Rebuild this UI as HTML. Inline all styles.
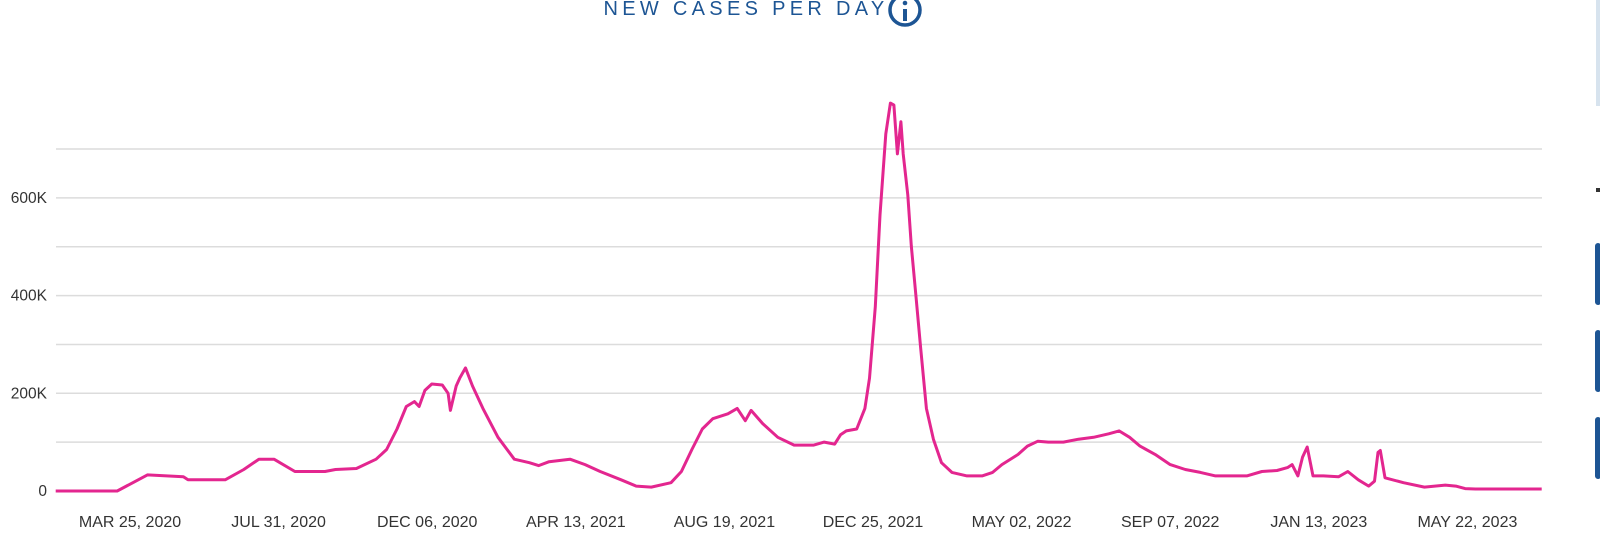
<!DOCTYPE html>
<html><head><meta charset="utf-8"><style>
body{margin:0;background:#fff;width:1600px;height:533px;overflow:hidden;font-family:"Liberation Sans",sans-serif;}
</style></head><body>
<svg width="1600" height="533" viewBox="0 0 1600 533">
<text x="746" y="15" text-anchor="middle" font-size="20" letter-spacing="4.3" fill="#1d5594">NEW CASES PER DAY</text>
<g><circle cx="905" cy="10" r="15" fill="none" stroke="#1d5594" stroke-width="3.5"/><rect x="903" y="9" width="4" height="12" fill="#1d5594"/><circle cx="905" cy="3" r="2.3" fill="#1d5594"/></g>
<rect x="1596" y="0" width="4" height="106" fill="#d7e3ee"/>
<rect x="1596" y="188" width="4" height="4" fill="#333"/>
<rect x="1595" y="243" width="6" height="62" rx="3" fill="#1d5594"/>
<rect x="1595" y="330" width="6" height="62" rx="3" fill="#1d5594"/>
<rect x="1595" y="417" width="6" height="62" rx="3" fill="#1d5594"/>
<g id="grid"></g><g id="ylab"></g><g id="xlab"></g><g id="series"></g>
</svg>
<script>
const days=[0,53,79,110,114,146,162,175,188,206,215,232,241,259,276,285,294,302,309,313,318,324,333,338,340,345,348,353,359,368,381,395,408,416,425,443,456,469,487,500,513,530,539,548,557,566,579,587,594,599,609,622,636,653,662,671,676,681,690,697,701,706,710,715,719,722,725,728,730,734,737,741,745,750,756,763,772,785,798,807,815,829,837,846,855,868,881,894,907,916,925,934,947,960,973,986,999,1013,1026,1039,1052,1061,1065,1070,1074,1078,1083,1092,1105,1113,1122,1131,1136,1139,1141,1145,1161,1179,1197,1206,1214,1223,1280];
const casesK=[0,0,33,29,23,23,44,65,65,40,40,40,44,46,65,85,127,173,183,173,206,219,217,200,165,215,231,252,215,169,110,65,58,52,60,65,54,40,23,10,8,17,40,85,127,148,158,169,144,165,138,110,94,94,100,96,115,123,127,169,231,377,565,731,794,790,690,756,690,606,502,398,294,169,106,58,38,31,31,38,54,75,92,102,100,100,106,110,117,123,110,92,75,54,44,38,31,31,31,40,42,48,54,31,69,90,31,31,29,40,23,10,20,79,83,27,17,8,12,10,5,4,4];
const yTicks=[0,100,200,300,400,500,600,700];
const yLabels=["0","","200K","","400K","","600K",""];
const xTickDays=[64,192,320,448,576,704,832,960,1088,1216];
const xLabels=["MAR 25, 2020","JUL 31, 2020","DEC 06, 2020","APR 13, 2021","AUG 19, 2021","DEC 25, 2021","MAY 02, 2022","SEP 07, 2022","JAN 13, 2023","MAY 22, 2023"];
const NS="http://www.w3.org/2000/svg";
const X0=56,X1=1542;
function xs(d){return 130+(d-64)*148.6/128;}
function ys(v){return 491-v*0.4885;}
const grid=document.getElementById('grid'),yl=document.getElementById('ylab'),xl=document.getElementById('xlab'),ser=document.getElementById('series');
yTicks.forEach((t,i)=>{
 if(t>0){const l=document.createElementNS(NS,'line');
 l.setAttribute('x1',X0);l.setAttribute('x2',X1);l.setAttribute('y1',ys(t));l.setAttribute('y2',ys(t));
 l.setAttribute('stroke','#dcdcdc');l.setAttribute('stroke-width','1.5');
 
 
 grid.appendChild(l);}
 if(yLabels[i]){const tx=document.createElementNS(NS,'text');
 tx.setAttribute('x',47);tx.setAttribute('y',ys(t)+5);tx.setAttribute('text-anchor','end');
 tx.setAttribute('font-size','15.5');tx.setAttribute('fill','#333');tx.textContent=yLabels[i];
 
 
 yl.appendChild(tx);}
});
xTickDays.forEach((d,i)=>{
 const tx=document.createElementNS(NS,'text');
 tx.setAttribute('x',xs(d));tx.setAttribute('y',527);tx.setAttribute('text-anchor','middle');
 tx.setAttribute('font-size','16');tx.setAttribute('fill','#333');tx.textContent=xLabels[i];
 
 
 xl.appendChild(tx);
});
const p=document.createElementNS(NS,'polyline');
p.setAttribute('points',days.map((d,i)=>xs(d).toFixed(1)+','+ys(casesK[i]).toFixed(1)).join(' '));
p.setAttribute('fill','none');p.setAttribute('stroke','#e3268f');p.setAttribute('stroke-width','3');p.setAttribute('stroke-linejoin','round');


ser.appendChild(p);
</script>
</body></html>
